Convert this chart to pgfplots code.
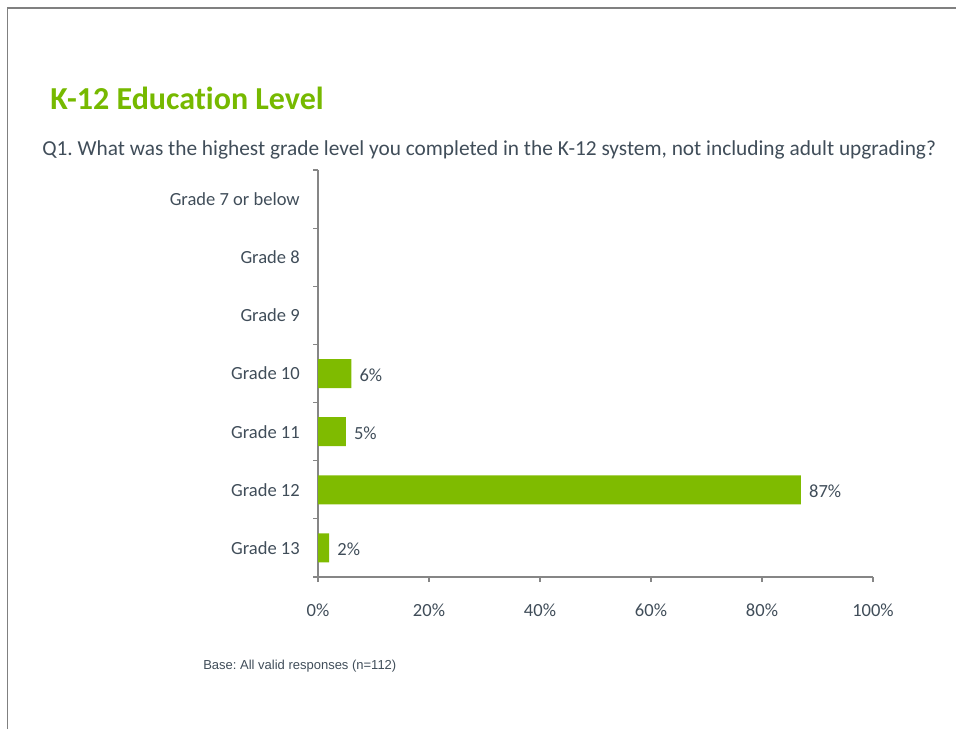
\documentclass[border=0pt]{standalone}
\usepackage{fontspec}
\setmainfont{Carlito}[Ligatures=NoCommon]
\newfontfamily\basefont{Liberation Sans}
\usepackage{pgfplots}
\pgfplotsset{compat=1.18}
\definecolor{barg}{RGB}{127,187,0}
\definecolor{titleg}{RGB}{118,185,0}
\definecolor{txt}{RGB}{64,77,89}
\definecolor{axg}{RGB}{134,134,134}
\definecolor{frameg}{RGB}{128,128,128}
\frenchspacing
\begin{document}
\begin{tikzpicture}
\begin{scope}[x=0.75pt,y=0.75pt]
\useasboundingbox (0,0) rectangle (956,729);
\draw[frameg, line width=1.2pt] (7.5,0) -- (7.5,721) -- (956,721);
\node[anchor=base west, text=titleg, font=\fontsize{24pt}{29pt}\selectfont\bfseries, inner sep=0pt] at (50,619) {K-12 Education Level};
\node[anchor=base west, text=txt, font=\fontsize{16pt}{19pt}\selectfont, inner sep=0pt] at (42,573) {Q1. What was the highest grade level you completed in the K-12 system, not including adult upgrading?};
\node[anchor=base west, text=txt, font=\basefont\fontsize{9.75pt}{12pt}\selectfont, inner sep=0pt] at (203,60) {Base: All valid responses (n=112)};
\end{scope}
\begin{axis}[
  at={(238.5pt,114pt)}, anchor=south west,
  scale only axis, width=416.25pt, height=305.25pt,
  xmin=0, xmax=100, ymin=-0.5, ymax=6.5,
  axis x line*=bottom, axis y line*=left,
  axis line style={axg, line width=0.8pt},
  xtick={0,20,...,100},
  xticklabel={\pgfmathprintnumber{\tick}\%},
  ytick={-0.5,0.5,...,6.5},
  yticklabels={,,,,,,,},
  extra y ticks={0,1,2,3,4,5,6},
  extra y tick labels={Grade 13,Grade 12,Grade 11,Grade 10,Grade 9,Grade 8,Grade 7 or below},
  extra y tick style={major tick length=0pt, yticklabel style={anchor=east, xshift=-13.5pt}},
  tick align=outside,
  major tick length=3.75pt,
  tick style={axg, line width=0.8pt},
  ticklabel style={text=txt, font=\fontsize{13.9pt}{16pt}\selectfont, inner sep=0pt},
  xticklabel style={anchor=north, yshift=-16.5pt},
  /pgf/number format/assume math mode=true,
  xbar, bar width=21.75pt,
  nodes near coords={\pgfmathprintnumber{\pgfplotspointmeta}\%},
  nodes near coords style={text=txt, font=\fontsize{13.9pt}{16pt}\selectfont, inner sep=0pt, anchor=west, xshift=6pt, yshift=-1pt},
  clip=false,
]
\addplot[fill=barg, draw=none] coordinates {(6,3) (5,2) (87,1) (2,0)};
\end{axis}
\end{tikzpicture}
\end{document}
